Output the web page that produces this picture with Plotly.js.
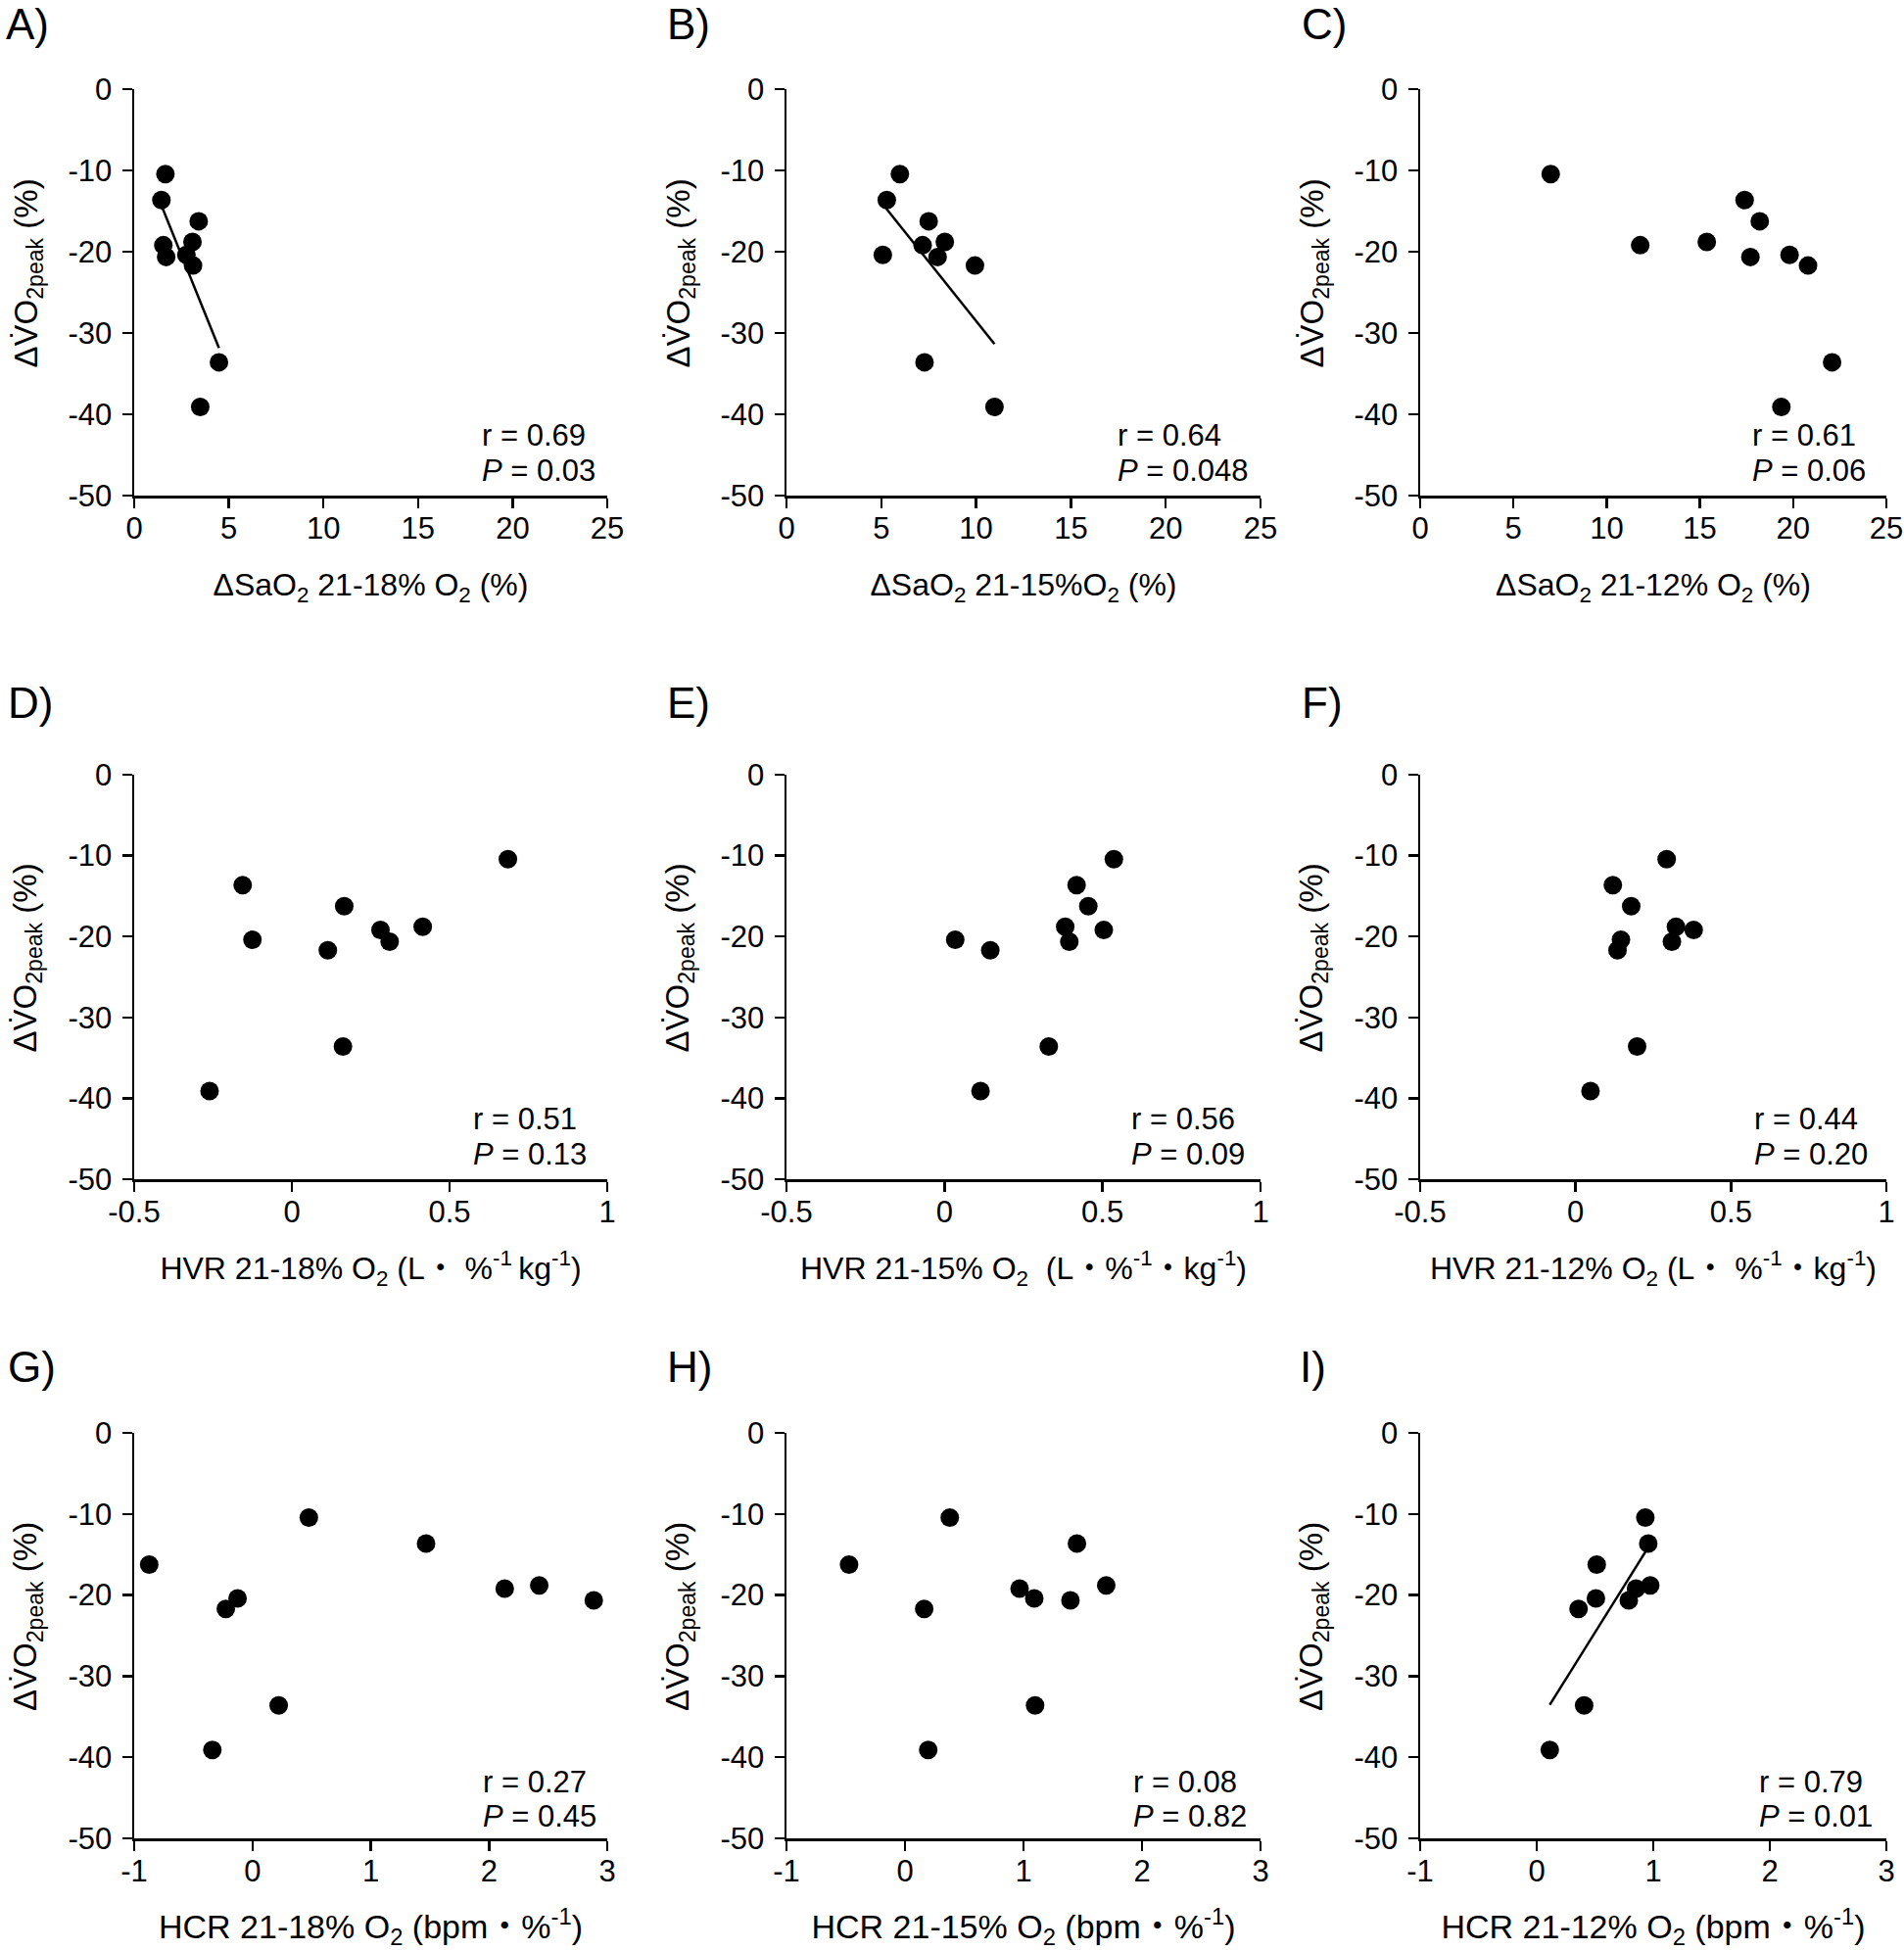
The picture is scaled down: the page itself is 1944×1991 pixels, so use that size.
<!DOCTYPE html>
<html>
<head>
<meta charset="utf-8">
<script src="https://cdn.plot.ly/plotly-3.0.1.min.js"></script>
<style>
  html, body { margin: 0; padding: 0; background: #fff; }
  #chart { width: 1944px; height: 1991px; }
</style>
</head>
<body>
<div id="chart"></div>
<script>
// change in VO2peak (%) of the 10 subjects, same subject order in every panel
const vo2Peak = [-10.45, -13.65, -16.25, -18.8, -19.2, -20.4, -20.65, -21.7, -33.6, -39.1];

// delta SaO2 (%)
const sao2_18 = [1.65, 1.44, 3.41, 3.08, 1.54, 2.76, 1.69, 3.11, 4.48, 3.49];
const sao2_15 = [5.98, 5.29, 7.50, 8.35, 7.18, 5.08, 7.97, 9.94, 7.28, 10.97];
const sao2_12 = [7.0, 17.4, 18.21, 15.37, 11.8, 19.81, 17.71, 20.8, 22.09, 19.37];

// hypoxic ventilatory response
const hvr_18 = [0.685, -0.156, 0.166, 0.415, 0.281, -0.125, 0.310, 0.114, 0.162, -0.261];
const hvr_15 = [0.536, 0.418, 0.455, 0.382, 0.504, 0.034, 0.395, 0.145, 0.330, 0.114];
const hvr_12 = [0.293, 0.120, 0.179, 0.323, 0.380, 0.146, 0.310, 0.135, 0.198, 0.048];

// hypoxic cardiac response
const hcr_18 = [0.477, 1.468, -0.873, 2.425, 2.133, -0.126, 2.886, -0.225, 0.222, -0.339];
const hcr_15 = [0.378, 1.451, -0.472, 1.698, 0.967, 1.091, 1.396, 0.162, 1.098, 0.196];
const hcr_12 = [0.932, 0.957, 0.515, 0.974, 0.852, 0.508, 0.790, 0.359, 0.407, 0.112];

const rValues = ['0.69', '0.64', '0.61', '0.51', '0.56', '0.44', '0.27', '0.08', '0.79'];
const pValues = ['0.03', '0.048', '0.06', '0.13', '0.09', '0.20', '0.45', '0.82', '0.01'];
const panelLabels = ['A)', 'B)', 'C)', 'D)', 'E)', 'F)', 'G)', 'H)', 'I)'];

const yTickVals = [-50, -40, -30, -20, -10, 0];
const yTickText = ['-50', '-40', '-30', '-20', '-10', '0'];
const sao2TickVals = [0, 5, 10, 15, 20, 25];
const sao2TickText = ['0', '5', '10', '15', '20', '25'];
const hvrTickVals = [-0.5, 0, 0.5, 1];
const hvrTickText = ['-0.5', '0', '0.5', '1'];
const hcrTickVals = [-1, 0, 1, 2, 3];
const hcrTickText = ['-1', '0', '1', '2', '3'];

const yTitle = '\u0394V\u0307O<sub>2peak</sub> (%)';

const panels = [
    { x: sao2_18, ticks: [sao2TickVals, sao2TickText], fit: true,
      title: '\u0394SaO<sub>2</sub> 21-18% O<sub>2</sub> (%)' },
    { x: sao2_15, ticks: [sao2TickVals, sao2TickText], fit: true,
      title: '\u0394SaO<sub>2</sub> 21-15%O<sub>2</sub> (%)' },
    { x: sao2_12, ticks: [sao2TickVals, sao2TickText], fit: false,
      title: '\u0394SaO<sub>2</sub> 21-12% O<sub>2</sub> (%)' },
    { x: hvr_18, ticks: [hvrTickVals, hvrTickText], fit: false,
      title: 'HVR 21-18% O<sub>2</sub> (L\u30fb %<sup>-1 </sup>kg<sup>-1</sup>)' },
    { x: hvr_15, ticks: [hvrTickVals, hvrTickText], fit: false,
      title: 'HVR 21-15% O<sub>2</sub>  (L\u30fb%<sup>-1</sup>\u30fbkg<sup>-1</sup>)' },
    { x: hvr_12, ticks: [hvrTickVals, hvrTickText], fit: false,
      title: 'HVR 21-12% O<sub>2</sub> (L\u30fb %<sup>-1</sup>\u30fbkg<sup>-1</sup>)' },
    { x: hcr_18, ticks: [hcrTickVals, hcrTickText], fit: false,
      title: 'HCR 21-18% O<sub>2</sub> (bpm\u30fb%<sup>-1</sup>)' },
    { x: hcr_15, ticks: [hcrTickVals, hcrTickText], fit: false,
      title: 'HCR 21-15% O<sub>2</sub> (bpm\u30fb%<sup>-1</sup>)' },
    { x: hcr_12, ticks: [hcrTickVals, hcrTickText], fit: true,
      title: 'HCR 21-12% O<sub>2</sub> (bpm\u30fb%<sup>-1</sup>)' }
];

// page geometry (pixels)
const W = 1944, H = 1991;
const colPx = [[137, 620], [803, 1287], [1450, 1926]];
const rowPx = [[91, 506], [791, 1204], [1463, 1877]];
const labelPx = [[4, 24], [679, 24], [1327, 24], [6, 718], [679, 718], [1327, 718], [6, 1395], [679, 1395], [1325, 1395]];
const statLeftPx = [490, 1139, 1787, 481, 1153, 1789, 491, 1155, 1794];
const statRowY = [[-42.6, -46.9], [-42.6, -46.9], [-43.0, -47.3]];
const xTitleSize = [32, 32, 34];

const FONT = 'Liberation Sans, Arial, Noto Sans CJK JP, sans-serif';

function fitLine(xs, ys) {
    const n = xs.length;
    const mx = xs.reduce((a, b) => a + b, 0) / n;
    const my = ys.reduce((a, b) => a + b, 0) / n;
    let sxy = 0, sxx = 0;
    for (let i = 0; i < n; i++) {
        sxy += (xs[i] - mx) * (ys[i] - my);
        sxx += (xs[i] - mx) * (xs[i] - mx);
    }
    const slope = sxy / sxx;
    const x0 = Math.min(...xs), x1 = Math.max(...xs);
    return { x: [x0, x1], y: [my + slope * (x0 - mx), my + slope * (x1 - mx)] };
}

const traces = [];
const layout = {
    width: W,
    height: H,
    margin: { l: 0, r: 0, t: 0, b: 0 },
    paper_bgcolor: '#fff',
    plot_bgcolor: '#fff',
    showlegend: false,
    font: { family: FONT, size: 31, color: '#000' },
    annotations: []
};

const axisCommon = {
    showline: true,
    linecolor: '#000',
    linewidth: 2.5,
    ticks: 'outside',
    ticklen: 10,
    tickwidth: 2.5,
    tickcolor: '#000',
    showgrid: false,
    zeroline: false,
    fixedrange: true,
    tickmode: 'array',
    tickfont: { family: FONT, size: 31, color: '#000' }
};

panels.forEach(function (p, i) {
    const k = i === 0 ? '' : String(i + 1);
    const col = colPx[i % 3];
    const r = Math.floor(i / 3);
    const row = rowPx[r];

    if (p.fit) {
        const f = fitLine(p.x, vo2Peak);
        traces.push({
            x: f.x, y: f.y, xaxis: 'x' + k, yaxis: 'y' + k,
            mode: 'lines', type: 'scatter', hoverinfo: 'skip',
            line: { color: '#000', width: 2.5 }
        });
    }
    traces.push({
        x: p.x, y: vo2Peak, xaxis: 'x' + k, yaxis: 'y' + k,
        mode: 'markers', type: 'scatter',
        marker: { color: '#000', size: 19 }
    });

    layout['xaxis' + k] = Object.assign({}, axisCommon, {
        anchor: 'y' + k,
        domain: [col[0] / W, col[1] / W],
        range: [p.ticks[0][0], p.ticks[0][p.ticks[0].length - 1]],
        tickvals: p.ticks[0],
        ticktext: p.ticks[1],
        ticklabelstandoff: -6,
        title: { text: p.title, standoff: 30, font: { family: FONT, size: xTitleSize[r], color: '#000' } }
    });
    layout['yaxis' + k] = Object.assign({}, axisCommon, {
        anchor: 'x' + k,
        domain: [1 - row[1] / H, 1 - row[0] / H],
        range: [-50, 0],
        tickvals: yTickVals,
        ticktext: yTickText,
        ticklabelstandoff: 4
    });

    // y title, set a little above the middle of the axis as in the original
    layout.annotations.push({
        text: yTitle, xref: 'paper', yref: 'paper', textangle: -90,
        x: (col[0] - 109) / W, y: 1 - ((row[0] + row[1]) / 2 - 19) / H,
        xanchor: 'center', yanchor: 'middle', showarrow: false,
        font: { family: FONT, size: 33, color: '#000' }
    });

    const sy = statRowY[r];
    layout.annotations.push({
        text: 'r = ' + rValues[i], xref: 'paper', yref: 'y' + k,
        x: statLeftPx[i] / W, y: sy[0], xanchor: 'left', yanchor: 'middle',
        showarrow: false, font: { family: FONT, size: 31, color: '#000' }
    });
    layout.annotations.push({
        text: '<i>P</i> = ' + pValues[i], xref: 'paper', yref: 'y' + k,
        x: statLeftPx[i] / W, y: sy[1], xanchor: 'left', yanchor: 'middle',
        showarrow: false, font: { family: FONT, size: 31, color: '#000' }
    });
    layout.annotations.push({
        text: panelLabels[i], xref: 'paper', yref: 'paper',
        x: labelPx[i][0] / W, y: 1 - labelPx[i][1] / H,
        xanchor: 'left', yanchor: 'middle', showarrow: false,
        font: { family: FONT, size: 44, color: '#000' }
    });
});

Plotly.newPlot('chart', traces, layout, { staticPlot: true });
</script>
</body>
</html>
